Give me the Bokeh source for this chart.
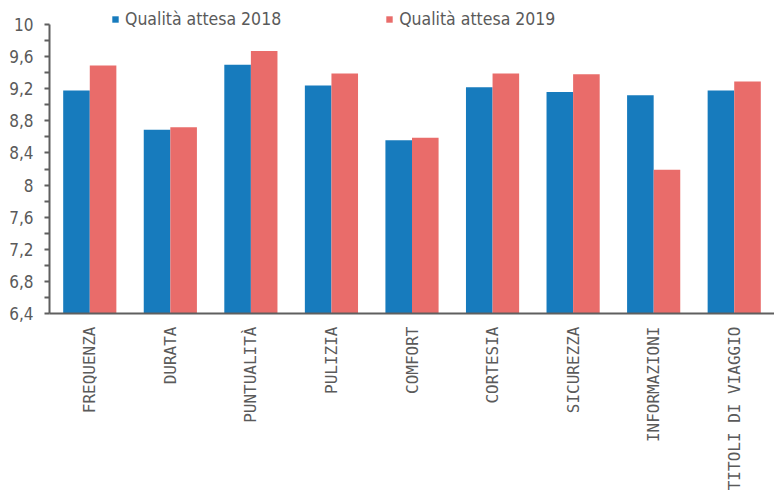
import math
from bokeh.plotting import figure
from bokeh.models import (ColumnDataSource, FactorRange, Range1d, FixedTicker,
                          CustomJSTickFormatter, Legend, LegendItem)
from bokeh.transform import dodge
from bokeh.embed import file_html
from bokeh.resources import INLINE

# ---- data ----
categories = ["FREQUENZA", "DURATA", "PUNTUALITÀ", "PULIZIA", "COMFORT",
              "CORTESIA", "SICUREZZA", "INFORMAZIONI", "TITOLI DI VIAGGIO"]
attesa_2018 = [9.18, 8.69, 9.50, 9.24, 8.56, 9.22, 9.16, 9.12, 9.18]
attesa_2019 = [9.49, 8.72, 9.67, 9.39, 8.59, 9.39, 9.38, 8.19, 9.29]
series_names = ["Qualità attesa 2018", "Qualità attesa 2019"]
y_ticks = [6.4, 6.8, 7.2, 7.6, 8.0, 8.4, 8.8, 9.2, 9.6, 10.0]
y_min, y_max = 6.4, 10.0
y_view_top = 10.25  # extra room above the axis for the legend

BLUE = "#177bbd"
RED = "#e96c6a"
GREY = "#5a5a5a"
AXIS = "#5f5f5f"

src = ColumnDataSource(dict(cat=categories, a18=attesa_2018, a19=attesa_2019))

p = figure(x_range=FactorRange(*categories), y_range=Range1d(y_min, y_view_top),
           width=774, height=493, output_backend="svg", toolbar_location=None,
           min_border_left=49, min_border_right=0, min_border_top=4,
           min_border_bottom=0)
p.background_fill_color = "white"
p.border_fill_color = "white"
p.outline_line_color = None
p.xgrid.grid_line_color = None
p.ygrid.grid_line_color = None

r1 = p.vbar(x=dodge("cat", -0.165, range=p.x_range), top="a18", bottom=y_min,
            width=0.33, source=src, fill_color=BLUE, line_color=None)
r2 = p.vbar(x=dodge("cat", 0.165, range=p.x_range), top="a19", bottom=y_min,
            width=0.33, source=src, fill_color=RED, line_color=None)

# y axis
minor = [round((a + b) / 2, 2) for a, b in zip(y_ticks[:-1], y_ticks[1:])]
p.yaxis.ticker = FixedTicker(ticks=y_ticks, minor_ticks=minor)
p.yaxis.bounds = (y_min, y_max)
p.yaxis.formatter = CustomJSTickFormatter(
    code="var s = (Math.round(tick*10)/10).toString(); return s.replace('.', ',');")
p.yaxis.axis_line_color = AXIS
p.yaxis.axis_line_width = 2
p.yaxis.major_tick_line_color = AXIS
p.yaxis.minor_tick_line_color = AXIS
p.yaxis.major_tick_line_width = 2
p.yaxis.minor_tick_line_width = 2
p.yaxis.major_tick_in = 0
p.yaxis.major_tick_out = 5
p.yaxis.minor_tick_in = 0
p.yaxis.minor_tick_out = 5
p.yaxis.major_label_standoff = 11
p.yaxis.major_label_text_font = "DejaVu Sans Condensed"
p.yaxis.major_label_text_font_size = "17px"
p.yaxis.major_label_text_color = GREY

# x axis
p.xaxis.axis_line_color = AXIS
p.xaxis.axis_line_width = 2
p.xaxis.major_tick_line_color = None
p.xaxis.major_tick_in = 0
p.xaxis.major_tick_out = 0
p.xaxis.minor_tick_line_color = None
p.xaxis.major_label_orientation = math.pi / 2
p.xaxis.major_label_standoff = 13
p.xaxis.major_label_text_font = "DejaVu Sans Mono"
p.xaxis.major_label_text_font_size = "16px"
p.xaxis.major_label_text_color = GREY

legend = Legend(items=[LegendItem(label=series_names[0], renderers=[r1]),
                       LegendItem(label=series_names[1], renderers=[r2])],
                orientation="horizontal", location=(62, 284),
                glyph_width=8, glyph_height=8, label_standoff=6, spacing=104,
                padding=0, margin=0, border_line_color=None,
                background_fill_alpha=0,
                label_text_font="DejaVu Sans Condensed",
                label_text_font_size="17.5px", label_text_color=GREY)
p.add_layout(legend, "center")

open("out.html", "w").write(file_html(p, INLINE))
